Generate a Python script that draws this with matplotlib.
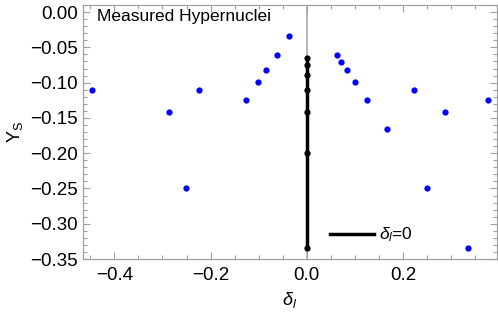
import numpy as np
import matplotlib
matplotlib.use("Agg")
import matplotlib.pyplot as plt
from matplotlib.ticker import MultipleLocator, FixedLocator

plt.rcParams.update({
    "font.family": ["Liberation Sans", "DejaVu Sans"],
    "mathtext.fontset": "custom",
    "mathtext.rm": "Liberation Sans",
    "mathtext.it": "Liberation Sans:italic",
})

# measured hypernuclei (delta_l, Y_S)
delta_l = [-0.447, -0.287, -0.224, -0.126, -0.251, -0.101, -0.0845, -0.063, -0.0367,
           0.0616, 0.0713, 0.0837, 0.0997, 0.1246, 0.1668, 0.222, 0.2866, 0.376,
           0.2506, 0.334]
y_s = [-0.111, -0.142, -0.111, -0.124, -0.250, -0.0987, -0.0822, -0.061, -0.034,
       -0.061, -0.0704, -0.082, -0.0987, -0.124, -0.166, -0.111, -0.142, -0.124,
       -0.250, -0.334]

# delta_l = 0 series
zero_x = [0, 0, 0, 0, 0, 0, 0]
zero_y = [-0.0656, -0.0755, -0.0897, -0.110, -0.142, -0.200, -0.334]

GRAY = "#a0a0a0"

fig = plt.figure(figsize=(4.98, 3.18), dpi=100)
ax = fig.add_axes([83 / 498, 1 - 259 / 318, 414 / 498, 254 / 318])

ax.axvline(0, color="#b0b0b0", linewidth=1.3, zorder=1)
ax.plot(delta_l, y_s, "o", color="#0000ff", markersize=4.5, markeredgewidth=0, zorder=3)
ax.plot(zero_x, zero_y, "-o", color="black", linewidth=2.5, markersize=4.5,
        markeredgewidth=0, zorder=4, label=r"$\delta_l$=0")

ax.set_xlim(-0.465, 0.395)
ax.set_ylim(-0.35, 0.01)

ax.xaxis.set_major_locator(FixedLocator([-0.4, -0.2, 0.0, 0.2]))
ax.xaxis.set_minor_locator(MultipleLocator(0.05))
ax.yaxis.set_major_locator(MultipleLocator(0.05))
ax.yaxis.set_minor_locator(MultipleLocator(0.01))
ax.xaxis.set_major_formatter(plt.FuncFormatter(lambda v, p: f"{v:.1f}".replace("-", "\u2212")))
ax.yaxis.set_major_formatter(plt.FuncFormatter(lambda v, p: f"{v:.2f}".replace("-", "\u2212")))

for s in ax.spines.values():
    s.set_color(GRAY)
    s.set_linewidth(0.9)
ax.tick_params(which="both", direction="in", top=True, right=True, color=GRAY,
               labelsize=13.5, labelcolor="black", width=0.8)
ax.tick_params(which="major", length=5)
ax.tick_params(which="minor", length=2.8)
ax.tick_params(axis="x", pad=6)

ax.set_xlabel(r"$\delta_l$", fontsize=13, labelpad=4)
ax.set_ylabel(r"Y$_\mathrm{S}$", fontsize=13, labelpad=4)

ax.text(0.033, 0.985, "Measured Hypernuclei", transform=ax.transAxes,
        ha="left", va="top", fontsize=12.5)

ax.legend(loc="center left", bbox_to_anchor=(0.597, 0.0945), frameon=False,
          fontsize=12.5, handlelength=2.5, handletextpad=0.3, borderpad=0,
          borderaxespad=0, markerscale=0)

fig.savefig("out.png", dpi=100)
